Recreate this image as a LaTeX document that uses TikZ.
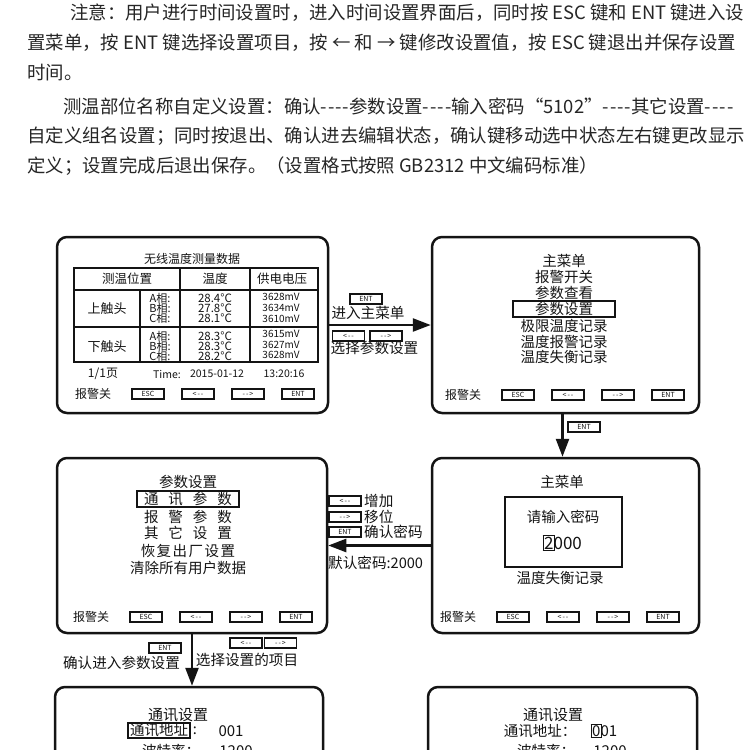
\documentclass[tikz,border=0pt]{standalone}
\usepackage{fontspec}
\usepackage{xcolor}
\usetikzlibrary{arrows.meta}
\newfontfamily\hei{Noto Sans CJK SC}
\definecolor{screenink}{HTML}{141414}
\definecolor{pageink}{HTML}{262626}
\newcommand{\pxfont}[1]{\fontsize{#1}{#1}\selectfont}
\newcommand{\spgap}{\hspace{10pt}}
\newcommand{\keyL}{<\hspace{1pt}-\hspace{1pt}-}
\newcommand{\keyR}{-\hspace{1pt}-\hspace{1pt}>}
\newcommand{\cursor}[1]{{\setlength{\fboxsep}{0.4pt}\setlength{\fboxrule}{1.2pt}\hspace{-1.6pt}\fbox{#1}\hspace{-1.6pt}}}

\tikzset{
  panel/.style={draw=screenink, line width=2.5pt, rounded corners=10pt, inner sep=0pt},
  keycap/.style={draw=screenink, line width=1.2pt, minimum width=32pt, minimum height=10pt,
                 inner sep=0pt, font=\hei\pxfont{7}},
  softlabel/.style={font=\hei\pxfont{12}, inner sep=0pt},
  menuitem/.style={font=\hei\pxfont{14.5}, inner sep=0pt},
  hint/.style={font=\hei\pxfont{14.6}, inner sep=0pt},
  cell/.style={font=\hei\pxfont{11}, inner sep=0pt},
  para/.style={font=\hei\pxfont{18.4}, anchor=west, inner sep=0pt, text=pageink},
  pick/.style={draw=screenink, line width=1.5pt, inner sep=0pt},
  grid/.style={screenink, line width=2.5pt},
  flowline/.style={screenink, line width=2.5pt, -{Triangle[length=18pt,width=13pt]}},
}

\begin{document}
\begin{tikzpicture}[x=1pt, y=-1pt, every node/.style={text=screenink}]

  \fill[white] (0,0) rectangle (750,750);
  \useasboundingbox (0,0) rectangle (750,750);
  \clip (0,0) rectangle (750,750);

  %% 面板下方的一排按键: 报警关 + 四个软键
  \newcommand{\keyrow}[3]{%
    \node[softlabel] (#1off) at (#2-55,#3) {报警关};
    \foreach \k [count=\i from 0] in {ESC,\keyL,\keyR,ENT}
      \node[keycap] (#1key\i) at (#2+50*\i,#3) {\k};
  }

  %% ---- 说明文字 ----
  \node[para] (note1) at (70,13) {注意：用户进行时间设置时，进入时间设置界面后，同时按 ESC 键和 ENT 键进入设};
  \node[para] (note2) at (27,43) {置菜单，按 ENT 键选择设置项目，按 ← 和 → 键修改设置值，按 ESC 键退出并保存设置};
  \node[para] (note3) at (27,73) {时间。};
  \node[para] (name1) at (63,106) {测温部位名称自定义设置：确认-\kern1pt-\kern1pt-\kern1pt-参数设置-\kern1pt-\kern1pt-\kern1pt-输入密码“5102”-\kern1pt-\kern1pt-\kern1pt-其它设置-\kern1pt-\kern1pt-\kern1pt-};
  \node[para] (name2) at (27,136) {自定义组名设置；同时按退出、确认进去编辑状态，确认键移动选中状态左右键更改显示};
  \node[para] (name3) at (27,166) {定义；设置完成后退出保存。（设置格式按照 GB2312 中文编码标准）};

  %% ---- 六个画面 ----
  \node[panel, minimum width=271, minimum height=176] (pnlData)  at (192.5,325)   {};
  \node[panel, minimum width=267, minimum height=176] (pnlMenu)  at (565.5,325)   {};
  \node[panel, minimum width=270, minimum height=175] (pnlParam) at (192,545.5)   {};
  \node[panel, minimum width=267, minimum height=175] (pnlPwd)   at (565.5,545.5) {};
  \node[panel, minimum width=268, minimum height=176] (pnlComm)  at (189,775)     {};
  \node[panel, minimum width=269, minimum height=176] (pnlAddr)  at (562.5,775)   {};

  %% ---- 画面一: 测量数据表 ----
  \node[softlabel] (dTitle) at (192,259) {无线温度测量数据};
  \draw[grid] (74,268) rectangle (318,362);
  \draw[grid] (74,290) -- (318,290);
  \draw[grid] (74,327) -- (318,327);
  \draw[grid] (140,290) -- (140,362);
  \foreach \cx in {180,250}
    \draw[grid] (\cx,268) -- (\cx,362);
  \node[softlabel, font=\hei\pxfont{12.5}] (dHeadPos)  at (127,279) {测温位置};
  \node[softlabel, font=\hei\pxfont{12.5}] (dHeadTemp) at (215,279) {温度};
  \node[softlabel, font=\hei\pxfont{12.5}] (dHeadVolt) at (282,279) {供电电压};
  \node[softlabel, font=\hei\pxfont{13}] (dUpper) at (107,309) {上触头};
  \node[softlabel, font=\hei\pxfont{13}] (dLower) at (107,347) {下触头};
  \foreach \ph/\tu/\vu/\tl/\vl [count=\r from 0] in
      {A/28.4/3628/28.3/3615, B/27.8/3634/28.3/3627, C/28.1/3610/28.2/3628} {
    \node[cell] (dUpPh\ph) at (160,298+10*\r) {\ph 相:};
    \node[cell, font=\hei\pxfont{11.5}] (dUpT\ph) at (215,298+10*\r) {\tu°C};
    \node[cell, font=\hei\pxfont{10}] (dUpV\ph) at (281,297+11*\r) {\vu mV};
    \node[cell] (dLoPh\ph) at (160,336+10*\r) {\ph 相:};
    \node[cell, font=\hei\pxfont{11.5}] (dLoT\ph) at (215,336+10*\r) {\tl°C};
    \node[cell, font=\hei\pxfont{10}] (dLoV\ph) at (281,334+10.5*\r) {\vl mV};
  }
  \node[softlabel] (dPage) at (103,374) {1/1页};
  \node[softlabel, font=\hei\pxfont{10.5}] (dTime) at (167,374) {Time:};
  \node[softlabel, font=\hei\pxfont{10.5}] (dDate) at (217,374) {2015-01-12};
  \node[softlabel, font=\hei\pxfont{10.5}] (dClock) at (284,374) {13:20:16};
  \keyrow{d}{148}{394}

  %% ---- 画面二: 主菜单 ----
  \node[menuitem] (mTitle) at (564,261) {主菜单};
  \node[menuitem] (mAlarm) at (564,277) {报警开关};
  \node[menuitem] (mView)  at (564,293) {参数查看};
  \node[menuitem, pick, minimum width=102, minimum height=16] (mSet) at (564,309) {参数设置};
  \node[menuitem] (mLimit) at (564,326) {极限温度记录};
  \node[menuitem] (mWarn)  at (564,342) {温度报警记录};
  \node[menuitem] (mImbal) at (564,357) {温度失衡记录};
  \keyrow{m}{518}{395}

  %% ---- 画面三: 参数设置 ----
  \node[menuitem] (sTitle) at (188,482) {参数设置};
  \node[menuitem, pick, minimum width=102, minimum height=16] (sComm) at (188,499) {通\spgap 讯\spgap 参\spgap 数};
  \node[menuitem] (sAlarm)   at (188,517) {报\spgap 警\spgap 参\spgap 数};
  \node[menuitem] (sOther)   at (188,533) {其\spgap 它\spgap 设\spgap 置};
  \node[menuitem] (sFactory) at (188,551) {恢\hspace{1.5pt}复\hspace{1.5pt}出\hspace{1.5pt}厂\hspace{1.5pt}设\hspace{1.5pt}置};
  \node[menuitem] (sClear)   at (188,568) {清除所有用户数据};
  \keyrow{s}{146}{617}

  %% ---- 画面四: 输入密码 ----
  \node[menuitem] (wTitle) at (562,482) {主菜单};
  \node[draw=screenink, line width=2pt, minimum width=117, minimum height=70, inner sep=0pt] (wBox) at (563.5,532) {};
  \node[menuitem] (wAsk)  at (563,517) {请输入密码};
  \node[menuitem, font=\hei\pxfont{17}] (wCode) at (563,543) {\cursor{2}000};
  \node[menuitem] (wImbal) at (560,578) {温度失衡记录};
  \keyrow{w}{513}{617}

  %% ---- 画面五、六: 通讯设置 (下半截出了画面) ----
  \node[menuitem, font=\hei\pxfont{15}] (cTitle) at (178,715) {通讯设置};
  \node[menuitem, pick, minimum width=62, minimum height=15] (cAddr) at (159,730.5) {通讯地址};
  \node[menuitem] (cColon) at (195,731) {:};
  \node[menuitem, font=\hei\pxfont{15}] (cAddrVal) at (231,731) {001};
  \node[menuitem] (cBaud) at (171,751) {波特率：};
  \node[menuitem, font=\hei\pxfont{15}] (cBaudVal) at (236,751) {1200};

  \node[menuitem, font=\hei\pxfont{15}] (aTitle) at (553,715) {通讯设置};
  \node[menuitem] (aAddr) at (540,731) {通讯地址：};
  \node[menuitem, font=\hei\pxfont{15}, anchor=west] (aAddrVal) at (592,731) {\cursor{0}01};
  \node[menuitem] (aBaud) at (546,751) {波特率：};
  \node[menuitem, font=\hei\pxfont{15}] (aBaudVal) at (610,751) {1200};

  %% ---- 画面之间的箭头与按键提示 ----
  \draw[flowline] (pnlData.east) -- (pnlMenu.west);
  \node[keycap] (kEnterMenu) at (366,299) {ENT};
  \node[hint] (tEnterMenu) at (368,313) {进入主菜单};
  \node[keycap] (kPickL) at (348.5,336) {\keyL};
  \node[keycap] (kPickR) at (386,336) {\keyR};
  \node[hint] (tPick) at (374.5,348) {选择参数设置};

  \draw[flowline] ([xshift=-3pt]pnlMenu.south) -- ([xshift=-3pt]pnlPwd.north);
  \node[keycap] (kToPwd) at (584,427) {ENT};

  \draw[flowline] (pnlPwd.west) -- (pnlParam.east);
  \foreach \kt/\tt/\ky [count=\j] in {\keyL/增加/501, \keyR/移位/517, ENT/确认密码/532} {
    \node[keycap] (kPwd\j) at (345,\ky) {\kt};
    \node[hint, anchor=west] (tPwd\j) at (364,\ky) {\tt};
  }
  \node[hint, anchor=west] (tDefault) at (328,563) {默认密码:2000};

  \draw[flowline] (pnlParam.south) -- (pnlParam.south |- pnlComm.north);
  \node[keycap] (kEnterSet) at (165,648) {ENT};
  \node[hint] (tEnterSet) at (121.5,663) {确认进入参数设置};
  \node[keycap] (kItemL) at (246,643) {\keyL};
  \node[keycap] (kItemR) at (280.5,643) {\keyR};
  \node[hint] (tItem) at (247,660) {选择设置的项目};

\end{tikzpicture}
\end{document}
